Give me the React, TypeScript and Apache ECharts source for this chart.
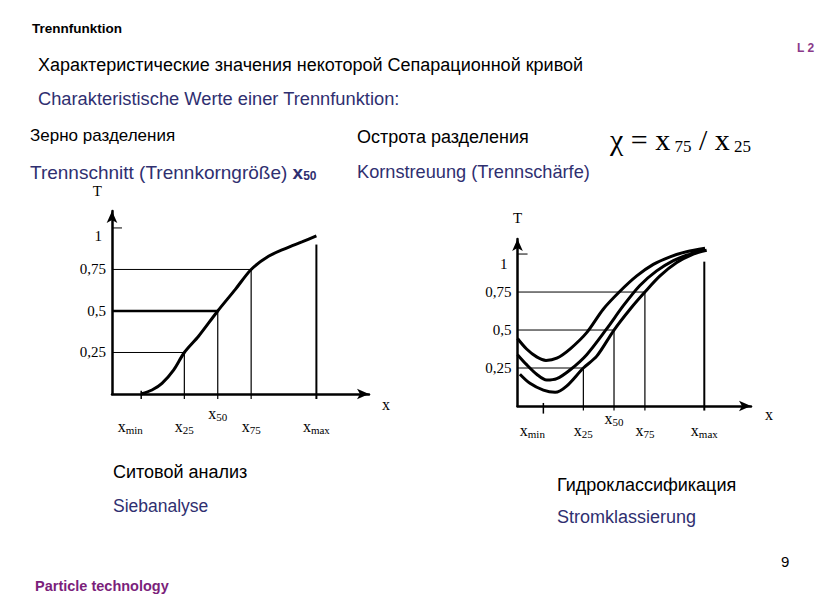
import React, { useEffect, useRef } from 'react';
import * as echarts from 'echarts';

// ---- data ----
const xKeys = ['min', '25', '50', '75', 'max'];
const levelValues = [0.25, 0.5, 0.75, 1];
const levelLabels = ['0,25', '0,5', '0,75', '1'];

// Siebanalyse (left chart)
const leftXPos = [11.1, 27.5, 40.2, 52.9, 77.7];
const leftCurve = [
  [11.1, 0], [15.2, 0.024], [19.0, 0.064], [23.4, 0.144], [27.5, 0.25], [32.9, 0.348],
  [40.2, 0.5], [46.9, 0.63], [52.9, 0.75], [59.5, 0.829], [65.9, 0.876], [72.2, 0.916], [77.7, 0.952],
];
const leftXmaxTop = 0.9;

// Stromklassierung (right chart)
const rightXPos = [10.8, 27.5, 40.3, 53.2, 78.0];
const rightTop = [
  [0, 0.444], [3.8, 0.375], [8.0, 0.323], [11.9, 0.3], [16.4, 0.315], [21.9, 0.375], [28.9, 0.483],
  [35.8, 0.637], [42.8, 0.755], [49.8, 0.856], [56.7, 0.932], [63.7, 0.982], [70.6, 1.015], [78.3, 1.038],
];
const rightMid = [
  [0, 0.338], [3.8, 0.272], [8.0, 0.209], [12.2, 0.171], [16.4, 0.18], [21.9, 0.237], [28.9, 0.338],
  [37.2, 0.507], [44.2, 0.66], [51.1, 0.793], [58.1, 0.889], [65.1, 0.957], [72.0, 1.0], [78.3, 1.033],
];
const rightBot = [
  [1.0, 0.209], [5.2, 0.149], [10.8, 0.104], [15.7, 0.09], [20.5, 0.131], [27.5, 0.25], [33.1, 0.328],
  [40.3, 0.5], [47.0, 0.637], [53.2, 0.75], [59.5, 0.856], [66.5, 0.944], [73.4, 1.0], [79.0, 1.025],
];
const rightXmaxTop = 0.95;

const SERIF = '"Liberation Serif", "Times New Roman", serif';
const SANS = '"Liberation Sans", Arial, sans-serif';
const NAVY = '#2f2f70';
const PURPLE = '#7b1f7b';

function line(data: number[][], width: number, xi: number, yi: number, smooth: number | boolean = false) {
  return {
    type: 'line', xAxisIndex: xi, yAxisIndex: yi, data, symbol: 'none', showSymbol: false,
    smooth, clip: false, silent: true, lineStyle: { color: '#000', width }, z: 3,
  };
}

function guides(xPos: number[], xmaxTop: number, xi: number, yi: number, tickLen: number, minTick: [number, number], halfWidth: number) {
  const s: any[] = [];
  for (let i = 1; i <= 3; i++) {
    const lv = levelValues[i - 1];
    s.push(line([[0, lv], [xPos[i], lv]], i === 2 ? halfWidth : 1, xi, yi));
    s.push(line([[xPos[i], lv], [xPos[i], -0.03]], 1.2, xi, yi));
  }
  s.push(line([[xPos[4], xmaxTop], [xPos[4], -0.03]], 2, xi, yi));
  s.push(line([[xPos[0], minTick[0]], [xPos[0], minTick[1]]], 1.5, xi, yi));
  s.push(line([[0, 1], [tickLen, 1]], 1, xi, yi));
  return s;
}

const xRich = {
  x: { fontFamily: SERIF, fontSize: 16, lineHeight: 18, color: '#000' },
  s: { fontFamily: SERIF, fontSize: 11, lineHeight: 10, verticalAlign: 'bottom', color: '#000' },
  sm: { fontFamily: SERIF, fontSize: 11, lineHeight: 10, verticalAlign: 'bottom', color: '#000', padding: [0, 22, 0, 0] },
};

function xFormatter(xPos: number[]) {
  return (v: number) => {
    let idx = 0;
    let best = Infinity;
    xPos.forEach((p, i) => { const d = Math.abs(p - v); if (d < best) { best = d; idx = i; } });
    return `{x|x}{${idx === 0 ? 'sm' : 's'}|${xKeys[idx]}}`;
  };
}

function yFormatter(oneStyle: string) {
  return (v: number) => {
    const i = levelValues.findIndex((l) => Math.abs(l - v) < 1e-6);
    if (i < 0) return '';
    return i === 3 ? `{${oneStyle}|${levelLabels[i]}}` : `{n|${levelLabels[i]}}`;
  };
}

function axesFor(grid: number, xmax: number, ymax: number, xPos: number[], mainMargin: number, x50Margin: number,
  tName: { gap: number; padding: number[]; align: string }, xName: { gap: number; padding: number[] }, oneStyle: string) {
  const axisLine = { show: true, symbol: ['none', 'arrow'], symbolSize: [8, 12], lineStyle: { color: '#000', width: 2.5 } };
  const xMain = {
    type: 'value', gridIndex: grid, min: 0, max: xmax, position: 'bottom',
    axisLine, axisTick: { show: false }, splitLine: { show: false },
    name: 'x', nameLocation: 'end', nameGap: xName.gap,
    nameTextStyle: { fontFamily: SERIF, fontSize: 16, color: '#000', padding: xName.padding, verticalAlign: 'top' },
    axisLabel: { customValues: [xPos[0], xPos[1], xPos[3], xPos[4]], margin: mainMargin, formatter: xFormatter(xPos), rich: xRich },
  };
  const x50 = {
    type: 'value', gridIndex: grid, min: 0, max: xmax, position: 'bottom',
    axisLine: { show: false }, axisTick: { show: false }, splitLine: { show: false },
    axisLabel: { customValues: [xPos[2]], margin: x50Margin, formatter: xFormatter(xPos), rich: xRich },
  };
  const y = {
    type: 'value', gridIndex: grid, min: 0, max: ymax,
    axisLine, axisTick: { show: false }, splitLine: { show: false },
    name: 'T', nameLocation: 'end', nameGap: tName.gap,
    nameTextStyle: { fontFamily: SERIF, fontSize: 15, color: '#000', padding: tName.padding, align: tName.align, verticalAlign: 'bottom' },
    axisLabel: {
      customValues: levelValues, margin: 6, formatter: yFormatter(oneStyle),
      rich: {
        n: { fontFamily: SERIF, fontSize: 15, color: '#000' },
        oneL: { fontFamily: SERIF, fontSize: 15, color: '#000', padding: [16, 4, 0, 0] },
        oneR: { fontFamily: SERIF, fontSize: 15, color: '#000', padding: [20, 4, 0, 0] },
      },
    },
  };
  return { x: [xMain, x50], y };
}

function txt(x: number, y: number, text: string, font: string, fill: string, rich?: any) {
  const style: any = { text, x, y, font, fill, verticalAlign: 'middle', align: 'left' };
  if (rich) style.rich = rich;
  return { type: 'text', style, silent: true };
}

export default function App() {
  const ref = useRef<HTMLDivElement>(null);
  useEffect(() => {
    if (!ref.current) return;
    const chart = echarts.init(ref.current, undefined, { renderer: 'svg' });
    const L = axesFor(0, 97.7, 1.102, leftXPos, 23, 10, { gap: 13, padding: [0, 10, 0, 0], align: 'right' }, { gap: 13, padding: [2, 0, 0, 0] }, 'oneL');
    const R = axesFor(1, 97.5, 1.099, rightXPos, 15, 3, { gap: 14, padding: [0, 0, 0, 0], align: 'center' }, { gap: 14, padding: [0, 0, 0, 0] }, 'oneR');
    const series: any[] = [
      line(leftCurve, 3, 0, 0, 0.3),
      ...guides(leftXPos, leftXmaxTop, 0, 0, 3.8, [0.02, -0.03], 2.5),
      line(rightTop, 3, 2, 1, 0.3),
      line(rightMid, 3, 2, 1, 0.3),
      line(rightBot, 3, 2, 1, 0.3),
      ...guides(rightXPos, rightXmaxTop, 2, 1, 4.2, [0.02, -0.05], 1),
    ];
    const subRich = (size: number, sub: number, color: string, bold: boolean, family: string, lh: number) => ({
      m: { fontFamily: family, fontSize: size, lineHeight: lh, color, fontWeight: 'normal' },
      b: { fontFamily: family, fontSize: size, lineHeight: lh, color, fontWeight: bold ? 'bold' : 'normal' },
      s: { fontFamily: family, fontSize: sub, lineHeight: sub, color, fontWeight: bold ? 'bold' : 'normal', verticalAlign: 'bottom' },
    });
    chart.setOption({
      animation: false,
      backgroundColor: '#ffffff',
      grid: [
        { left: 112, top: 211, width: 257, height: 183 },
        { left: 517.5, top: 239, width: 233.5, height: 167 },
      ],
      xAxis: [...L.x, ...R.x],
      yAxis: [L.y, R.y],
      series,
      graphic: [
        txt(32, 28, 'Trennfunktion', `bold 13.5px ${SANS}`, '#000'),
        txt(797, 48, 'L 2', `bold 12px ${SANS}`, '#8a3a8a'),
        txt(38, 65, 'Характеристические значения некоторой Сепарационной кривой', `18px ${SANS}`, '#000'),
        txt(38, 98, 'Charakteristische Werte einer Trennfunktion:', `18.3px ${SANS}`, NAVY),
        txt(30, 135, 'Зерно разделения', `17px ${SANS}`, '#000'),
        txt(357, 137, 'Острота разделения', `18px ${SANS}`, '#000'),
        txt(610, 139, '{m|χ = x}{s| 75}{m| / x}{s| 25}', `30px ${SERIF}`, '#000', subRich(30, 17, '#000', false, SERIF, 32)),
        txt(30, 172, '{m|Trennschnitt (Trennkorngröße) }{b|x}{s|50}', `19px ${SANS}`, NAVY, subRich(19, 12, NAVY, true, SANS, 20)),
        txt(357, 172, 'Kornstreuung (Trennschärfe)', `18.2px ${SANS}`, NAVY),
        txt(113, 472, 'Ситовой анализ', `18px ${SANS}`, '#000'),
        txt(113, 506, 'Siebanalyse', `17.5px ${SANS}`, NAVY),
        txt(557, 485, 'Гидроклассификация', `18px ${SANS}`, '#000'),
        txt(557, 517, 'Stromklassierung', `18px ${SANS}`, NAVY),
        txt(781, 561, '9', `15px ${SANS}`, '#000'),
        txt(35, 586, 'Particle technology', `bold 14.5px ${SANS}`, PURPLE),
      ],
    });
    return () => chart.dispose();
  }, []);
  return <div ref={ref} style={{ position: 'fixed', left: 0, top: 0, width: 840, height: 600 }} />;
}
